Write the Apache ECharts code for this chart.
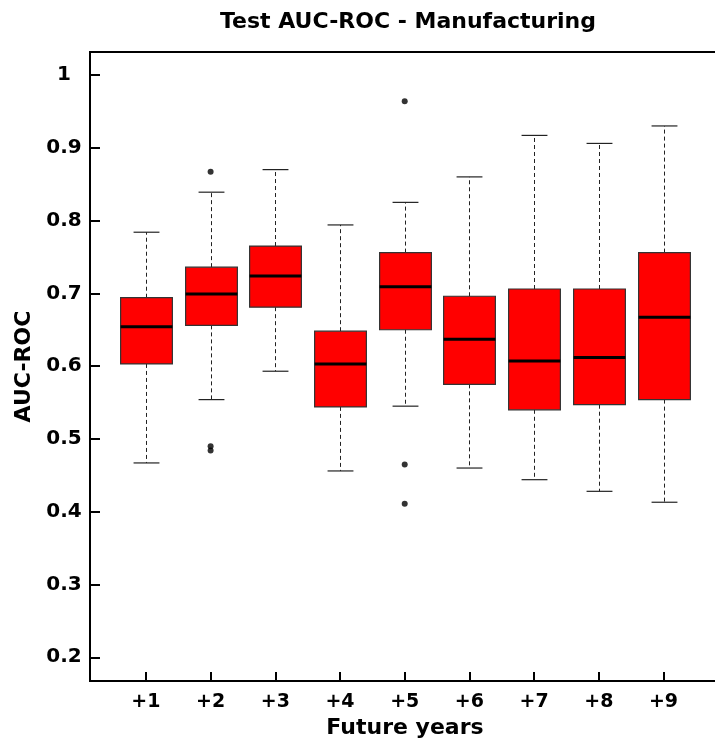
<!DOCTYPE html>
<html>
<head>
<meta charset="utf-8">
<script src="https://cdn.jsdelivr.net/npm/echarts@6/dist/echarts.min.js"></script>
<style>html,body{margin:0;padding:0;background:#fff}#c{width:715px;height:747px}</style>
</head>
<body>
<div id="c"></div>
<script>
var categories = ['+1','+2','+3','+4','+5','+6','+7','+8','+9'];
var positions = [1,2,3,4,5,6,7,8,9];
var lowerWhisker = [0.467, 0.554, 0.593, 0.456, 0.545, 0.460, 0.444, 0.428, 0.413];
var q1 =           [0.603, 0.656, 0.681, 0.544, 0.650, 0.575, 0.540, 0.547, 0.554];
var median =       [0.654, 0.699, 0.724, 0.603, 0.709, 0.637, 0.607, 0.612, 0.667];
var q3 =           [0.694, 0.736, 0.765, 0.648, 0.756, 0.696, 0.706, 0.706, 0.756];
var upperWhisker = [0.784, 0.839, 0.870, 0.794, 0.825, 0.860, 0.917, 0.906, 0.930];
var outliers = [[], [0.867, 0.490, 0.484], [], [], [0.964, 0.465, 0.411], [], [], [], []];
var yTicks = [0.2, 0.3, 0.4, 0.5, 0.6, 0.7, 0.8, 0.9, 1.0];
var yTickLabels = ['0.2','0.3','0.4','0.5','0.6','0.7','0.8','0.9','1'];

var boxData = positions.map(function(p, i){
  return [p, lowerWhisker[i], q1[i], median[i], q3[i], upperWhisker[i]];
});
var outlierData = [];
outliers.forEach(function(arr, i){ arr.forEach(function(v){ outlierData.push([positions[i], v]); }); });

var FONT = '"DejaVu Sans", sans-serif';
var chart = echarts.init(document.getElementById('c'), null, {renderer:'canvas'});
chart.setOption({
  animation: false,
  title: {
    text: 'Test AUC-ROC - Manufacturing',
    left: 403, top: 6, textAlign: 'center',
    textStyle: {fontFamily: FONT, fontWeight: 'bold', fontSize: 22, color: '#000'}
  },
  grid: {left: 90, top: 52, width: 630, height: 629, show: true, borderColor: '#000', borderWidth: 2,
    backgroundColor: 'transparent', containLabel: false, outerBoundsMode: 'none'},
  xAxis: {
    type: 'value', min: 0.136, max: 9.873,
    name: 'Future years', nameLocation: 'middle', nameGap: 46,
    nameTextStyle: {fontFamily: FONT, fontWeight: 'bold', fontSize: 22, color: '#000', verticalAlign: 'middle'},
    axisLine: {show: true, onZero: false, lineStyle: {color: '#000', width: 2}},
    axisTick: {show: true, inside: true, length: 9, customValues: positions, lineStyle: {color: '#000', width: 2}},
    axisLabel: {show: true, customValues: positions, margin: 12,
      formatter: function(v){ var i = positions.indexOf(Math.round(v)); return categories[i]; },
      fontFamily: FONT, fontWeight: 'bold', fontSize: 19, color: '#000'},
    splitLine: {show: false}
  },
  yAxis: {
    type: 'value', min: 0.1674, max: 1.0316,
    name: 'AUC-ROC', nameLocation: 'middle', nameGap: 65, nameRotate: 90,
    nameTextStyle: {fontFamily: FONT, fontWeight: 'bold', fontSize: 22, color: '#000', verticalAlign: 'middle'},
    axisLine: {show: true, onZero: false, lineStyle: {color: '#000', width: 2}},
    axisTick: {show: true, inside: true, length: 10, customValues: yTicks, lineStyle: {color: '#000', width: 2}},
    axisLabel: {show: true, customValues: yTicks, margin: 26, align: 'center',
      formatter: function(v){ var i = yTicks.findIndex(function(t){return Math.abs(t-v)<1e-6;}); return yTickLabels[i]; },
      fontFamily: FONT, fontWeight: 'bold', fontSize: 20, color: '#000'},
    splitLine: {show: false}
  },
  series: [
    {
      type: 'custom',
      data: boxData,
      renderItem: function(params, api){
        var x = api.value(0);
        var lo = api.coord([x, api.value(1)]);
        var b1 = api.coord([x, api.value(2)]);
        var md = api.coord([x, api.value(3)]);
        var b3 = api.coord([x, api.value(4)]);
        var hi = api.coord([x, api.value(5)]);
        var bw = api.size([0.8, 0])[0];
        var cw = bw / 2;
        var cx = Math.round(lo[0]) + 0.5;
        var dash = {stroke: '#222', lineWidth: 1, lineDash: [4, 3]};
        var solid = {stroke: '#222', lineWidth: 1.2};
        return {
          type: 'group',
          children: [
            {type: 'line', shape: {x1: cx, y1: b3[1], x2: cx, y2: hi[1]}, style: dash},
            {type: 'line', shape: {x1: cx, y1: b1[1], x2: cx, y2: lo[1]}, style: dash},
            {type: 'line', shape: {x1: cx - cw/2, y1: hi[1], x2: cx + cw/2, y2: hi[1]}, style: solid},
            {type: 'line', shape: {x1: cx - cw/2, y1: lo[1], x2: cx + cw/2, y2: lo[1]}, style: solid},
            {type: 'rect', shape: {x: cx - bw/2, y: b3[1], width: bw, height: b1[1] - b3[1]},
              style: {fill: '#ff0000', stroke: '#333', lineWidth: 1.2}},
            {type: 'line', shape: {x1: cx - bw/2, y1: md[1], x2: cx + bw/2, y2: md[1]}, style: {stroke: '#000', lineWidth: 3}}
          ]
        };
      }
    },
    {
      type: 'scatter',
      data: outlierData,
      symbol: 'circle', symbolSize: 6,
      itemStyle: {color: '#000'}
    }
  ]
});
</script>
</body>
</html>
